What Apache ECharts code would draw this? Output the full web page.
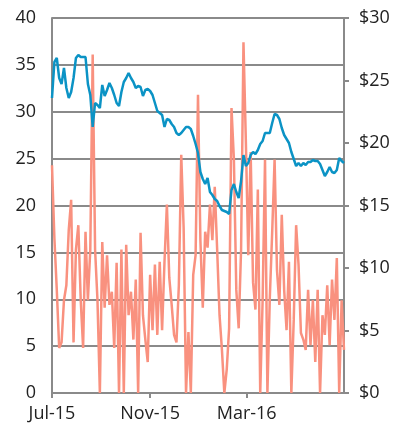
<!DOCTYPE html>
<html>
<head>
<meta charset="utf-8">
<script src="https://cdn.jsdelivr.net/npm/echarts@6/dist/echarts.min.js"></script>
<style>
html,body{margin:0;padding:0;background:#fff;}
#c{width:403px;height:431px;}
</style>
</head>
<body>
<div id="c"></div>
<script>
// ---- data (one observation every 3 days from 1 Jul 2015; x = days since 1 Jul 2015) ----
const stepDays = 3;

// left axis series (salmon)
const volumeValues = [
24.3,16.5,11.0,4.8,5.4,9.9,11.5,17.4,20.6,5.4,
15.3,17.9,9.9,4.8,17.2,9.9,15.3,36.1,15.3,9.9,
0,16.1,9.1,14.7,9.4,10.8,4.8,13.9,0,15.3,
0,15.8,8.3,10.8,5.7,12.1,0,17.1,8.3,5.7,
3.3,12.6,6.7,13.7,6.2,14.0,6.7,14.0,20.1,12.3,
9.4,6.2,5.4,11.5,25.4,17.6,0,6.5,0,12.6,
14.7,31.8,16.3,9.1,17.2,15.5,20.1,16.3,22.0,15.3,
8.3,4.6,0,2.5,6.9,30.4,24.9,11.0,6.9,15.3,
37.4,26.8,14.7,25.7,11.8,8.9,21.7,0,9.9,24.9,
0,10.1,17.2,24.9,13.1,9.4,19.0,11.0,6.7,14.0,
0,7.8,17.9,13.7,6.4,5.7,4.6,11.0,5.1,9.9,
3.3,11.0,0,8.3,6.2,11.5,5.1,12.1,7.8,14.4,
0,9.9,4.6
];

// right axis series (blue, $)
const priceValues = [
23.6,26.48,26.8,25.2,24.72,26.0,24.4,23.6,24.08,25.2,
26.8,27.04,26.88,26.88,26.88,24.72,23.84,21.28,23.2,23.04,
22.8,24.64,23.76,24.24,24.8,24.4,23.84,23.2,22.96,24.08,
24.88,25.2,25.6,25.2,24.88,24.4,24.56,24.48,23.76,24.24,
24.32,24.16,23.84,23.2,22.56,22.4,22.24,21.28,21.92,21.84,
21.52,21.28,20.8,20.64,20.8,21.04,21.28,21.28,21.12,20.56,
19.92,19.2,17.68,17.12,16.72,17.2,16.08,15.84,15.52,15.36,
14.96,14.64,14.56,14.48,14.32,16.24,16.72,16.08,15.6,16.96,
19.04,18.16,18.4,19.04,19.28,19.12,19.44,19.92,20.16,20.8,
20.8,20.8,21.6,22.32,22.24,21.92,21.2,20.64,20.32,20.0,
19.28,18.72,18.16,18.4,18.16,18.4,18.24,18.48,18.48,18.64,
18.56,18.56,18.32,17.84,17.36,17.68,18.08,17.68,17.6,17.84,
18.8,18.56,18.4
];

// tick labels (days since 1 Jul 2015: 1 Jul 2015, 1 Nov 2015, 1 Mar 2016)
const xTickDays = [0, 123, 244];
const xTickLabels = ['Jul-15','Nov-15','Mar-16'];
const xMaxDays = 366; // 1 Jul 2016

const days = volumeValues.map((_, i) => i * stepDays);
const volumeData = volumeValues.map((v, i) => [days[i], v]);
const priceData = priceValues.map((v, i) => [days[i], v]);

const grey = '#8a8a8a';
const font = "'Open Sans', 'DejaVu Sans', sans-serif";

const chart = echarts.init(document.getElementById('c'), null, {renderer: 'canvas'});
chart.setOption({
  animation: false,
  backgroundColor: '#fff',
  grid: {left: 52, right: 59, top: 18, bottom: 38, containLabel: false},
  xAxis: {
    type: 'value',
    min: 0,
    max: xMaxDays,
    axisLine: {show: true, onZero: false, lineStyle: {color: grey, width: 2}},
    axisTick: {show: true, length: 5, lineStyle: {color: grey, width: 2}, customValues: xTickDays},
    splitLine: {show: false},
    axisLabel: {
      customValues: xTickDays,
      color: '#222',
      fontFamily: font,
      fontSize: 18,
      margin: 12,
      formatter: function (v) {
        const idx = xTickDays.indexOf(v);
        return idx >= 0 ? xTickLabels[idx] : '';
      }
    }
  },
  yAxis: [
    {
      type: 'value', min: 0, max: 40, interval: 5, position: 'left',
      axisLine: {show: true, lineStyle: {color: grey, width: 2}},
      axisTick: {show: false},
      splitLine: {show: true, lineStyle: {color: grey, width: 2}},
      axisLabel: {color: '#222', fontFamily: font, fontSize: 18, margin: 16}
    },
    {
      type: 'value', min: 0, max: 30, interval: 5, position: 'right',
      axisLine: {show: true, lineStyle: {color: grey, width: 2}},
      axisTick: {show: true, inside: false, length: 5, lineStyle: {color: grey, width: 2}},
      splitLine: {show: false},
      axisLabel: {color: '#222', fontFamily: font, fontSize: 18, margin: 15, formatter: v => '$' + v}
    }
  ],
  series: [
    {
      type: 'line', yAxisIndex: 0, data: volumeData, showSymbol: false,
      lineStyle: {color: '#f9917f', width: 2.5}, z: 2
    },
    {
      type: 'line', yAxisIndex: 1, data: priceData, showSymbol: false,
      lineStyle: {color: '#0b93c5', width: 2.5}, z: 3
    }
  ]
});
</script>
</body>
</html>
